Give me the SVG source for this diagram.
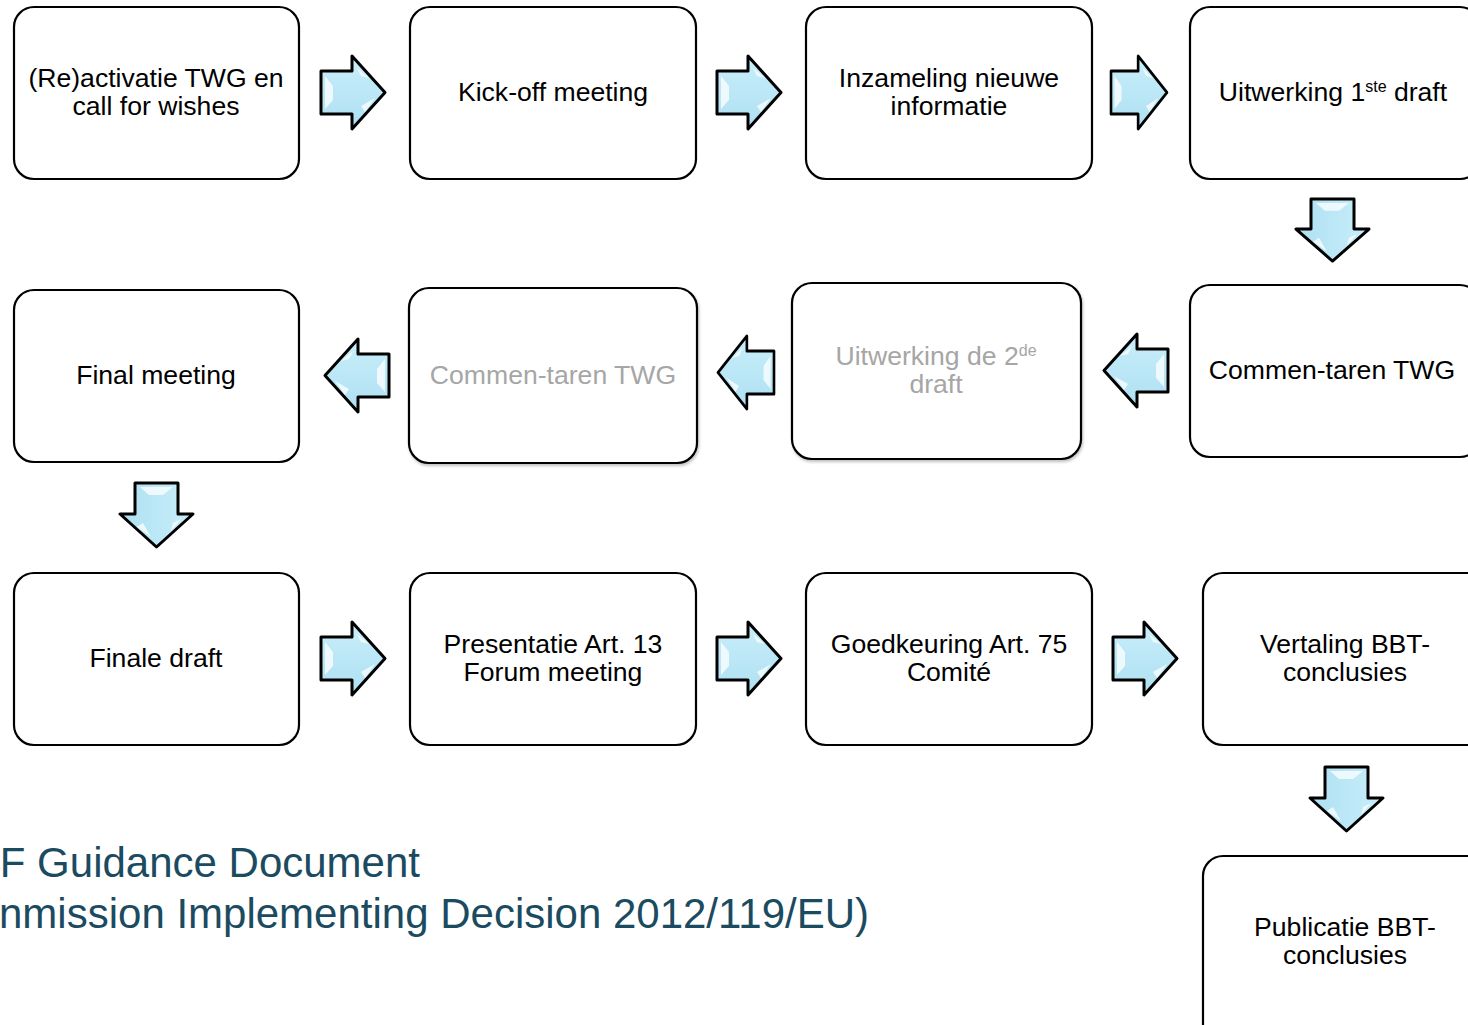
<svg xmlns="http://www.w3.org/2000/svg" width="1468" height="1025" viewBox="0 0 1468 1025">
<style>
.box{fill:#fff;stroke:#000;stroke-width:2.2}
.t{font-family:"Liberation Sans",Arial,sans-serif;font-size:26.6px;fill:#000;text-anchor:middle}
.g{fill:#a6a6a6}
.sup{font-size:16px}
.title{font-family:"Liberation Sans",Arial,sans-serif;font-size:42px;fill:#1b4b60;text-anchor:end}
.arr{fill:url(#ag);stroke:#000;stroke-width:3;stroke-linejoin:round}
.hl{fill:#fff;opacity:0.75}
</style>
<defs>
<filter id="sh" x="-5%" y="-5%" width="110%" height="110%">
<feGaussianBlur in="SourceAlpha" stdDeviation="1.5"/>
<feOffset dx="1" dy="1.5" result="b"/>
<feComponentTransfer><feFuncA type="linear" slope="0.25"/></feComponentTransfer>
<feMerge><feMergeNode/><feMergeNode in="SourceGraphic"/></feMerge>
</filter>
<linearGradient id="ag" x1="0" y1="0" x2="0" y2="1">
<stop offset="0" stop-color="#c9eefa"/>
<stop offset="1" stop-color="#aee0f2"/>
</linearGradient>
<g id="ar">
<path class="arr" d="M0,15 H31 V0 L64,36.5 L31,73 V58 H0 Z"/>
<path class="hl" d="M4,20 L12,30 L12,44 L4,53 Z"/>
<path class="hl" d="M40,50 L54,42 L44,56 Z"/>
<path class="hl" d="M36,12 L48,22 L40,20 Z" opacity="0.5"/>
</g>
</defs>

<g id="connectors">
<use href="#ar" transform="translate(321,56)"/>
<use href="#ar" transform="translate(717,56)"/>
<use href="#ar" transform="translate(1111,56) scale(0.875,1)"/>
<use href="#ar" transform="translate(1369,199) rotate(90) scale(0.97,1)"/>
<use href="#ar" transform="translate(1168,334) scale(-1,1)"/>
<use href="#ar" transform="translate(774,336) scale(-0.875,1)"/>
<use href="#ar" transform="translate(389,339) scale(-1,1)"/>
<use href="#ar" transform="translate(193,483) rotate(90)"/>
<use href="#ar" transform="translate(321,622)"/>
<use href="#ar" transform="translate(717,622)"/>
<use href="#ar" transform="translate(1113,622)"/>
<use href="#ar" transform="translate(1383,767) rotate(90)"/>
</g>

<g id="n1"><rect class="box" x="14" y="7" width="285" height="172" rx="20"/>
<text class="t" x="156" y="87">(Re)activatie TWG en</text><text class="t" x="156" y="115">call for wishes</text></g>
<g id="n2"><rect class="box" x="410" y="7" width="286" height="172" rx="20"/>
<text class="t" x="553" y="101">Kick-off meeting</text></g>
<g id="n3"><rect class="box" x="806" y="7" width="286" height="172" rx="20"/>
<text class="t" x="949" y="87">Inzameling nieuwe</text><text class="t" x="949" y="115">informatie</text></g>
<g id="n4"><rect class="box" x="1190" y="7" width="290" height="172" rx="20"/>
<text class="t" x="1333" y="101">Uitwerking 1<tspan class="sup" dy="-9">ste</tspan><tspan dy="9"> draft</tspan></text></g>

<g id="n5"><rect class="box" x="1190" y="285" width="290" height="172" rx="20"/>
<text class="t" x="1332" y="379">Commen-taren TWG</text></g>
<g id="n6"><rect class="box" x="792" y="283" width="289" height="176" rx="20" filter="url(#sh)"/>
<text class="t g" x="936" y="365">Uitwerking de 2<tspan class="sup" dy="-9">de</tspan></text><text class="t g" x="936" y="393">draft</text></g>
<g id="n7"><rect class="box" x="409" y="288" width="288" height="175" rx="20" filter="url(#sh)"/>
<text class="t g" x="553" y="384">Commen-taren TWG</text></g>
<g id="n8"><rect class="box" x="14" y="290" width="285" height="172" rx="20"/>
<text class="t" x="156" y="384">Final meeting</text></g>

<g id="n9"><rect class="box" x="14" y="573" width="285" height="172" rx="20"/>
<text class="t" x="156" y="667">Finale draft</text></g>
<g id="n10"><rect class="box" x="410" y="573" width="286" height="172" rx="20"/>
<text class="t" x="553" y="653">Presentatie Art. 13</text><text class="t" x="553" y="681">Forum meeting</text></g>
<g id="n11"><rect class="box" x="806" y="573" width="286" height="172" rx="20"/>
<text class="t" x="949" y="653">Goedkeuring Art. 75</text><text class="t" x="949" y="681">Comité</text></g>
<g id="n12"><rect class="box" x="1203" y="573" width="290" height="172" rx="20"/>
<text class="t" x="1345" y="653">Vertaling BBT-</text><text class="t" x="1345" y="681">conclusies</text></g>
<g id="n13"><rect class="box" x="1203" y="856" width="290" height="190" rx="20"/>
<text class="t" x="1345" y="936">Publicatie BBT-</text><text class="t" x="1345" y="964">conclusies</text></g>

<g id="title">
<text class="title" x="420" y="877">F Guidance Document</text>
<text class="title" x="869" y="928">nmission Implementing Decision 2012/119/EU)</text>
</g>
</svg>
